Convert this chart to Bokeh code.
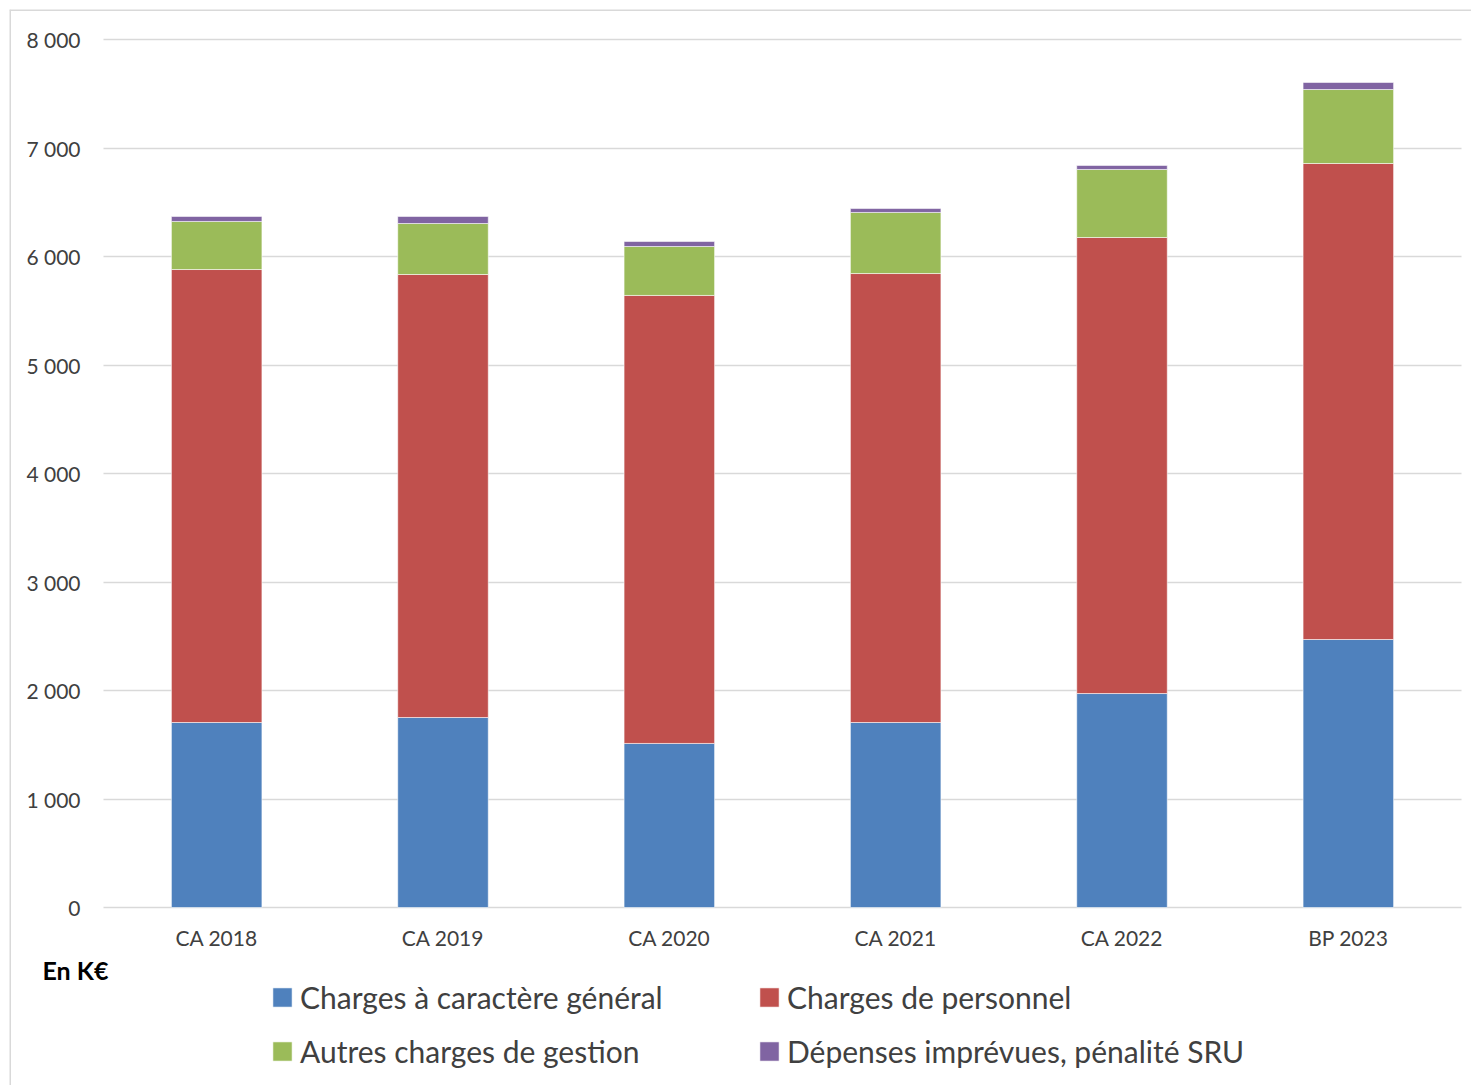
from bokeh.plotting import figure
from bokeh.models import Range1d, FixedTicker, Legend, LegendItem, Label, Span, ColumnDataSource
from bokeh.embed import file_html
from bokeh.resources import INLINE

categories = ["CA 2018", "CA 2019", "CA 2020", "CA 2021", "CA 2022", "BP 2023"]
series_names = ["Charges à caractère général", "Charges de personnel",
                "Autres charges de gestion", "Dépenses imprévues, pénalité SRU"]
charges_generales = [1705, 1751, 1512, 1705, 1972, 2470]
charges_personnel = [4175, 4083, 4129, 4138, 4203, 4387]
autres_charges = [443, 470, 451, 563, 627, 682]
depenses_imprevues = [46, 65, 46, 36, 37, 65]
y_ticks = [0, 1000, 2000, 3000, 4000, 5000, 6000, 7000, 8000]
y_tick_labels = ["0", "1 000", "2 000", "3 000", "4 000", "5 000", "6 000", "7 000", "8 000"]
colors = ["#4F81BD", "#C0504D", "#9BBB59", "#8064A2"]

n = len(categories)
xpos = [i + 0.5 for i in range(n)]
keys = ["gen", "pers", "autres", "imprev"]
source = ColumnDataSource(dict(x=xpos, gen=charges_generales, pers=charges_personnel,
                               autres=autres_charges, imprev=depenses_imprevues))

FONT = "Lato"
TXT = "#404040"
GRID = "#d9d9d9"

# pixel layout (page == canvas): frame covers 9..1471 x 9..1085,
# value axis 0..8000 drawn from y=907 to y=39, categories from x=103 to x=1461
W, H = 1471, 1085
FL, FT, FR, FB = 9, 9, 1471, 1085
PLOT_L, PLOT_R, PLOT_T, PLOT_B = 103, 1461, 39, 907
y_top = y_ticks[-1]
upp_y = y_top / (PLOT_B - PLOT_T)
upp_x = n / (PLOT_R - PLOT_L)
y_range = Range1d(-(FB - PLOT_B) * upp_y, y_top + (PLOT_T - FT) * upp_y)
x_range = Range1d(-(PLOT_L - FL) * upp_x, n + (FR - PLOT_R) * upp_x)

p = figure(width=W, height=H, x_range=x_range, y_range=y_range,
           output_backend="svg", toolbar_location=None,
           min_border_left=FL, min_border_right=W - FR, min_border_top=FT,
           min_border_bottom=H - FB)
p.outline_line_color = None

# chart-area border (left and top edges visible)
p.add_layout(Span(location=x_range.start + 0.5 * upp_x, dimension="height",
                  line_color=GRID, line_width=2))
p.add_layout(Span(location=y_range.end - 0.5 * upp_y, dimension="width",
                  line_color=GRID, line_width=2))

renderers = p.vbar_stack(keys, x="x", width=0.4, source=source, color=colors,
                         line_color="white", line_width=0.8, line_alpha=0.7)

# value axis, pinned at x = 0 inside the frame
p.yaxis.fixed_location = 0
p.yaxis.ticker = FixedTicker(ticks=y_ticks)
p.yaxis.major_label_overrides = {t: l for t, l in zip(y_ticks, y_tick_labels)}
p.yaxis.axis_line_color = None
p.yaxis.major_tick_line_color = None
p.yaxis.minor_tick_line_color = None
p.yaxis.major_tick_out = 0
p.yaxis.major_tick_in = 0
p.yaxis.major_label_standoff = 23
p.yaxis.major_label_text_font = FONT
p.yaxis.major_label_text_font_size = "21px"
p.yaxis.major_label_text_color = TXT

# category axis, pinned at y = 0 inside the frame
p.xaxis.fixed_location = 0
p.xaxis.ticker = FixedTicker(ticks=xpos)
p.xaxis.major_label_overrides = {x: c for x, c in zip(xpos, categories)}
p.xaxis.axis_line_color = None
p.xaxis.major_tick_line_color = None
p.xaxis.minor_tick_line_color = None
p.xaxis.major_tick_out = 0
p.xaxis.major_tick_in = 0
p.xaxis.major_label_standoff = 17
p.xaxis.major_label_text_font = FONT
p.xaxis.major_label_text_font_size = "21px"
p.xaxis.major_label_text_color = TXT

p.xgrid.grid_line_color = None
p.ygrid.grid_line_color = GRID
p.ygrid.grid_line_width = 1.5
p.ygrid.cross_bounds = (0, n)

def make_legend(items, x):
    lg = Legend(items=items, location=(x, 16), orientation="vertical",
                label_text_font=FONT, label_text_font_size="30px", label_text_color=TXT,
                glyph_width=24, glyph_height=24, label_height=36, spacing=18,
                label_standoff=6, padding=0, margin=0,
                border_line_color=None, background_fill_alpha=0)
    p.add_layout(lg, "center")

make_legend([LegendItem(label=series_names[0], renderers=[renderers[0]]),
             LegendItem(label=series_names[2], renderers=[renderers[2]])], 261)
make_legend([LegendItem(label=series_names[1], renderers=[renderers[1]]),
             LegendItem(label=series_names[3], renderers=[renderers[3]])], 748)

p.add_layout(Label(x=33, y=116, x_units="screen", y_units="screen", text="En K€",
                   text_font=FONT, text_font_style="bold", text_font_size="25px",
                   text_color="black", text_baseline="middle"))

open("out.html", "w").write(file_html(p, INLINE))
